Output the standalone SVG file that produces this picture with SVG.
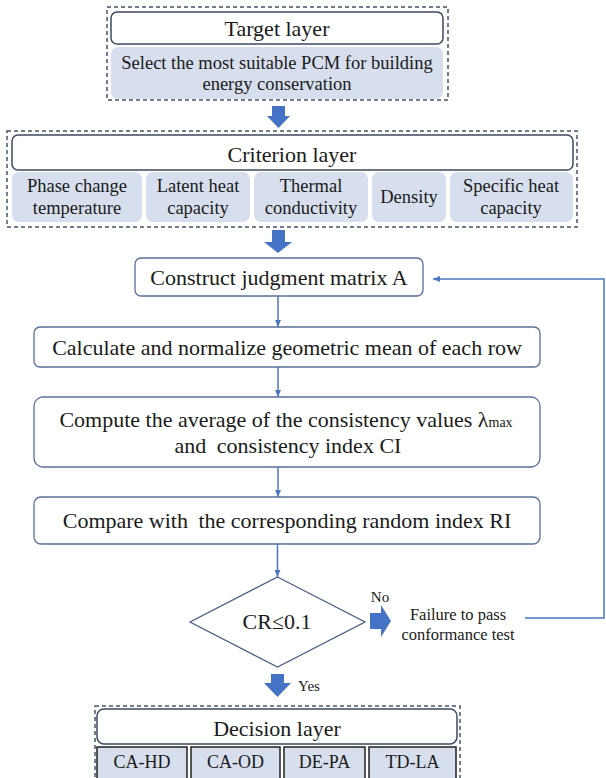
<svg xmlns="http://www.w3.org/2000/svg" width="606" height="778" viewBox="0 0 606 778">
<style>
.dash{fill:none;stroke:#44546A;stroke-width:1.5;stroke-dasharray:4 3}
.head{fill:#fff;stroke:#3d4a60;stroke-width:1.5}
.sub{fill:#D7DFEE}
.dec{fill:#D7DFEE;stroke:#222;stroke-width:1.5}
.proc{fill:#fff;stroke:#5a7099;stroke-width:1.3}
.conn{fill:none;stroke:#4a78c0;stroke-width:1.5}
.blk{fill:#4472C4}
</style>
<defs>
<marker id="ah" markerWidth="8" markerHeight="8" refX="7" refY="4" orient="auto" markerUnits="userSpaceOnUse">
<path d="M0,1 L7,4 L0,7 Z" fill="#4a78c0"/>
</marker>
</defs>

<g id="target-layer">
<rect class="dash" x="107" y="7" width="341" height="93"/>
<rect class="head" x="111" y="12" width="332" height="32" rx="6"/>
<rect class="sub" x="111" y="47" width="332" height="52" rx="7"/>
<text font-family="Times New Roman" font-size="22" fill="#1a1a1a" text-anchor="middle" x="277" y="36">Target layer</text>
<text font-family="Times New Roman" font-size="18.5" fill="#1a1a1a" text-anchor="middle" x="277" y="69">Select the most suitable PCM for building</text>
<text font-family="Times New Roman" font-size="18.5" fill="#1a1a1a" text-anchor="middle" x="277" y="90">energy conservation</text>
</g>

<g id="criterion-layer">
<rect class="dash" x="7" y="131" width="570" height="96"/>
<rect class="head" x="12" y="135" width="561" height="35" rx="6"/>
<rect class="sub" x="12" y="172" width="130" height="50" rx="7"/>
<rect class="sub" x="146" y="172" width="104" height="50" rx="7"/>
<rect class="sub" x="254" y="172" width="114" height="50" rx="7"/>
<rect class="sub" x="372" y="172" width="74" height="50" rx="7"/>
<rect class="sub" x="450" y="172" width="123" height="50" rx="7"/>
<text font-family="Times New Roman" font-size="22" fill="#1a1a1a" text-anchor="middle" x="292" y="162">Criterion layer</text>
<text font-family="Times New Roman" font-size="18.5" fill="#1a1a1a" text-anchor="middle" x="77" y="192">Phase change</text>
<text font-family="Times New Roman" font-size="18.5" fill="#1a1a1a" text-anchor="middle" x="77" y="214">temperature</text>
<text font-family="Times New Roman" font-size="18.5" fill="#1a1a1a" text-anchor="middle" x="198" y="192">Latent heat</text>
<text font-family="Times New Roman" font-size="18.5" fill="#1a1a1a" text-anchor="middle" x="198" y="214">capacity</text>
<text font-family="Times New Roman" font-size="18.5" fill="#1a1a1a" text-anchor="middle" x="311" y="192">Thermal</text>
<text font-family="Times New Roman" font-size="18.5" fill="#1a1a1a" text-anchor="middle" x="311" y="214">conductivity</text>
<text font-family="Times New Roman" font-size="18.5" fill="#1a1a1a" text-anchor="middle" x="409" y="203">Density</text>
<text font-family="Times New Roman" font-size="18.5" fill="#1a1a1a" text-anchor="middle" x="511" y="192">Specific heat</text>
<text font-family="Times New Roman" font-size="18.5" fill="#1a1a1a" text-anchor="middle" x="511" y="214">capacity</text>
</g>

<g id="construct">
<rect class="proc" x="135" y="258" width="288" height="38" rx="6"/>
<text font-family="Times New Roman" font-size="22" fill="#1a1a1a" text-anchor="middle" x="279" y="285">Construct judgment matrix A</text>
</g>

<g id="calculate">
<rect class="proc" x="34" y="327" width="506" height="40" rx="6"/>
<text font-family="Times New Roman" font-size="22" fill="#1a1a1a" text-anchor="middle" x="287" y="355">Calculate and normalize geometric mean of each row</text>
</g>

<g id="compute">
<rect class="proc" x="34" y="397" width="506" height="70" rx="9"/>
<text font-family="Times New Roman" font-size="22" fill="#1a1a1a" text-anchor="middle" x="286" y="427">Compute the average of the consistency values &#955;<tspan font-size="14">max</tspan></text>
<text font-family="Times New Roman" font-size="22" fill="#1a1a1a" text-anchor="middle" x="288" y="453">and <tspan dx="5">consistency index CI</tspan></text>
</g>

<g id="compare">
<rect class="proc" x="34" y="497" width="506" height="47" rx="7"/>
<text font-family="Times New Roman" font-size="22" fill="#1a1a1a" text-anchor="middle" x="287" y="528">Compare with <tspan dx="5">the corresponding random index RI</tspan></text>
</g>

<g id="decision">
<polygon points="277.5,577 365,622 277.5,667 190,622" fill="#fff" stroke="#4a5f86" stroke-width="1.3"/>
<text font-family="Times New Roman" font-size="22" fill="#1a1a1a" text-anchor="middle" x="277" y="629">CR&#8804;0.1</text>
</g>

<g id="failure">
<text font-family="Times New Roman" font-size="16.5" fill="#1a1a1a" text-anchor="middle" x="458" y="620">Failure to pass</text>
<text font-family="Times New Roman" font-size="16.5" fill="#1a1a1a" text-anchor="middle" x="458" y="640">conformance test</text>
</g>

<g id="decision-layer">
<rect class="dash" x="95" y="706" width="365" height="80"/>
<rect class="head" x="97" y="709" width="360" height="35" rx="7"/>
<rect class="dec" x="97" y="747" width="90" height="40"/>
<rect class="dec" x="191" y="747" width="89" height="40"/>
<rect class="dec" x="284" y="747" width="81" height="40"/>
<rect class="dec" x="369" y="747" width="87" height="40"/>
<text font-family="Times New Roman" font-size="22" fill="#1a1a1a" text-anchor="middle" x="277" y="736">Decision layer</text>
<text font-family="Times New Roman" font-size="18" fill="#1a1a1a" text-anchor="middle" x="142" y="768">CA-HD</text>
<text font-family="Times New Roman" font-size="18" fill="#1a1a1a" text-anchor="middle" x="235.5" y="768">CA-OD</text>
<text font-family="Times New Roman" font-size="18" fill="#1a1a1a" text-anchor="middle" x="324.5" y="768">DE-PA</text>
<text font-family="Times New Roman" font-size="18" fill="#1a1a1a" text-anchor="middle" x="412.5" y="768">TD-LA</text>
</g>

<g id="connectors">
<polygon class="blk" points="272,106 285,106 285,116 290,116 278.5,128 267,116 272,116"/>
<polygon class="blk" points="272,230 285,230 285,242 292,242 278,253 264,242 272,242"/>
<polygon class="blk" points="370,613 381,613 381,605 391,621 381,637 381,629 370,629"/>
<polygon class="blk" points="271,674 284,674 284,683 291,683 277.5,697 264,683 271,683"/>
<line class="conn" x1="278" y1="296" x2="278" y2="327" marker-end="url(#ah)"/>
<line class="conn" x1="278" y1="367" x2="278" y2="397" marker-end="url(#ah)"/>
<line class="conn" x1="278" y1="467" x2="278" y2="497" marker-end="url(#ah)"/>
<line class="conn" x1="277.5" y1="544" x2="277.5" y2="577" marker-end="url(#ah)"/>
<polyline class="conn" points="525,618 604,618 604,279 433,279" marker-end="url(#ah)"/>
<text font-family="Times New Roman" font-size="15" fill="#1a1a1a" text-anchor="middle" x="380" y="602">No</text>
<text font-family="Times New Roman" font-size="15" fill="#1a1a1a" text-anchor="middle" x="309" y="691">Yes</text>
</g>
</svg>
